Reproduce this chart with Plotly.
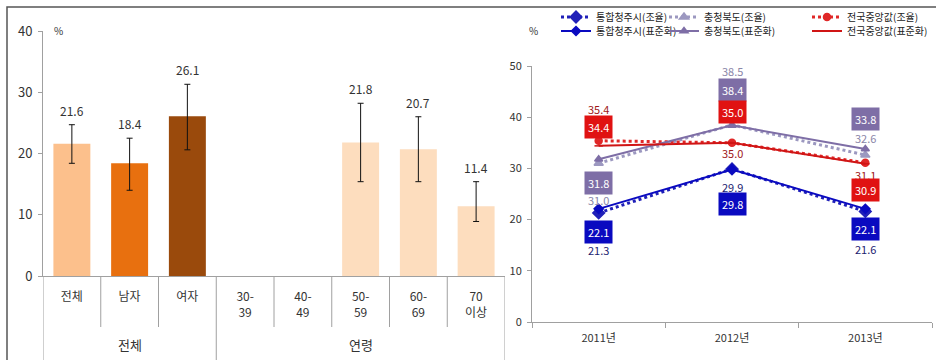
import plotly.graph_objects as go

W, H = 936, 360

# ---------------- data: left chart ----------------
groups = ["전체", "전체", "전체", "연령", "연령", "연령", "연령", "연령"]
categories = ["전체", "남자", "여자", "30-<br>39", "40-<br>49", "50-<br>59", "60-<br>69", "70<br>이상"]
values = [21.6, 18.4, 26.1, None, None, 21.8, 20.7, 11.4]
ci_low = [18.4, 14.0, 20.6, None, None, 15.4, 15.4, 8.9]
ci_high = [24.7, 22.5, 31.3, None, None, 28.2, 26.0, 15.4]
left_yticks = [0, 10, 20, 30, 40]

# ---------------- data: right chart ----------------
years = ["2011년", "2012년", "2013년"]
chungju_crude = [21.3, 29.9, 21.6]
chungju_std = [22.1, 29.8, 22.1]
chungbuk_crude = [31.0, 38.5, 32.6]
chungbuk_std = [31.8, 38.4, 33.8]
national_crude = [35.4, 35.0, 31.1]
national_std = [34.4, 35.0, 30.9]
right_yticks = [0, 10, 20, 30, 40, 50]

# ---------------- styles ----------------
FONT = "Noto Sans CJK KR"
bar_colors = ["#FCC08C", "#E8700F", "#9A4A0C", "#FDDDBE", "#FDDDBE", "#FDDDBE", "#FDDDBE", "#FDDDBE"]
AX = "#A0A0A0"
TXT = "#333333"

def px_x(p):
    return p / W

def px_y(p):
    return 1 - p / H

fig = go.Figure()

# left bars
fig.add_trace(go.Bar(
    x=categories, y=values, marker=dict(color=bar_colors, line=dict(width=0)),
    error_y=dict(type="data", symmetric=False,
                 array=[(h - v) if v is not None else None for v, h in zip(values, ci_high)],
                 arrayminus=[(v - l) if v is not None else None for v, l in zip(values, ci_low)],
                 color="#111111", thickness=1, width=3),
    xaxis="x", yaxis="y", showlegend=False, hoverinfo="skip"))

annotations = []
# bar value labels above the error bars
for c, v, h in zip(categories, values, ci_high):
    if v is None:
        continue
    annotations.append(dict(x=c, y=h, xref="x", yref="y", text=f"{v:.1f}", showarrow=False,
                            yanchor="bottom", yshift=4,
                            font=dict(family=FONT, size=12, color=TXT)))

# right lines
series = [
    # name, values, color, dash, width, marker, msize
    ("통합청주시(조율)", chungju_crude, "#2020B8", "dot", 3, "diamond", 9),
    ("충청북도(조율)", chungbuk_crude, "#9C98C0", "dot", 3, "triangle-up", 8),
    ("전국중앙값(조율)", national_crude, "#E02828", "dot", 3, "circle", 7),
    ("통합청주시(표준화)", chungju_std, "#0A0AC0", "solid", 2, "diamond", 7),
    ("충청북도(표준화)", chungbuk_std, "#7E6EA6", "solid", 2, "triangle-up", 7),
    ("전국중앙값(표준화)", national_std, "#D01515", "solid", 2, "line-ew", 6),
]
# legend entry placement (pixels: symbol-left, row centre)
legend_pos = [(556, 17), (664, 17), (807, 17), (556, 31), (664, 31), (807, 31)]

layout_legends = {}
for k, ((name, vals, col, dash, wd, sym, ms), (lx, ly)) in enumerate(zip(series, legend_pos)):
    lg = "legend" if k == 0 else f"legend{k + 1}"
    fig.add_trace(go.Scatter(
        x=years, y=vals, name=name, mode="lines+markers",
        line=dict(color=col, dash=dash, width=wd),
        marker=dict(symbol=sym, size=ms, color=col, line=dict(color=col, width=1.5)),
        xaxis="x2", yaxis="y2", legend=lg, hoverinfo="skip"))
    layout_legends[lg] = dict(orientation="h", xref="container", yref="container",
                              xanchor="left", yanchor="middle", x=px_x(lx), y=px_y(ly),
                              font=dict(family=FONT, size=10, color="#222222"),
                              bgcolor="rgba(0,0,0,0)", itemwidth=30)

# label styles (pixel offsets from each point), per series
label_style = {
    "통합청주시(조율)": dict(box=False, color="#1C1C70", shifts=[-37, -18, -38]),
    "충청북도(조율)": dict(box=False, color="#8A86A8", shifts=[-37, 54, 17]),
    "전국중앙값(조율)": dict(box=False, color="#A01818", shifts=[32, -10, -12]),
    "통합청주시(표준화)": dict(box=True, color="#0A0AC0", shifts=[-23, -35, -20]),
    "충청북도(표준화)": dict(box=True, color="#7E6EA6", shifts=[-24, 35, 30]),
    "전국중앙값(표준화)": dict(box=True, color="#E01212", shifts=[19, 31, -26]),
}
for name, vals, col, dash, wd, sym, ms in series:
    st = label_style[name]
    for yr, v, sh in zip(years, vals, st["shifts"]):
        if st["box"]:
            annotations.append(dict(
                x=yr, y=v, xref="x2", yref="y2", text=f"{v:.1f}", showarrow=False, yshift=sh,
                bgcolor=st["color"], borderpad=3,
                font=dict(family=FONT, size=11, color="white")))
        else:
            annotations.append(dict(
                x=yr, y=v, xref="x2", yref="y2", text=f"{v:.1f}", showarrow=False, yshift=sh,
                font=dict(family=FONT, size=11, color=st["color"])))

# group labels of the left chart
seen = []
for g in groups:
    if g not in seen:
        seen.append(g)
for g in seen:
    idx = [i for i, gg in enumerate(groups) if gg == g]
    mid = (idx[0] + idx[-1]) / 2
    annotations.append(dict(x=mid, y=px_y(344), xref="x", yref="paper", yanchor="middle",
                            text=g, showarrow=False,
                            font=dict(family=FONT, size=13, color=TXT)))

# "%" unit labels
for ux in (58, 533):
    annotations.append(dict(x=px_x(ux), y=px_y(30), xref="paper", yref="paper", xanchor="center",
                            yanchor="middle", text="%", showarrow=False,
                            font=dict(family=FONT, size=10, color=TXT)))

# divider lines for the left chart's category axis
shapes = []
n = len(categories)
for i in range(n + 1):
    is_group_edge = i == 0 or i == n or groups[i] != groups[i - 1]
    shapes.append(dict(type="line", xref="x", yref="paper", x0=i - 0.5, x1=i - 0.5,
                       y0=px_y(276), y1=(-0.05 if is_group_edge else px_y(327)),
                       line=dict(color=AX, width=1)))
# outer frame (top and left visible)
shapes.append(dict(type="rect", xref="paper", yref="paper", x0=px_x(7), x1=1.05, y0=-0.05, y1=px_y(7),
                   line=dict(color="#555555", width=1.5)))

fig.update_layout(
    width=W, height=H, margin=dict(l=0, r=0, t=0, b=0, autoexpand=False),
    paper_bgcolor="white", plot_bgcolor="white",
    font=dict(family=FONT, color=TXT),
    bargap=0.36,
    xaxis=dict(domain=[px_x(43), px_x(505)], type="category", showline=True, linecolor=AX,
               ticks="", showgrid=False, tickfont=dict(size=12, color=TXT), ticklabelstandoff=10,
               range=[-0.5, n - 0.5]),
    yaxis=dict(domain=[px_y(276), px_y(31)], range=[0, 40], tickvals=left_yticks, showline=True,
               linecolor=AX, ticks="outside", ticklen=4, tickcolor=AX, showgrid=False,
               zeroline=False, tickfont=dict(size=13, color=TXT), ticklabelstandoff=3),
    xaxis2=dict(domain=[px_x(532), px_x(932)], type="category", anchor="y2", showline=True,
                linecolor=AX, ticks="outside", ticklen=5, tickcolor=AX, tickson="boundaries",
                showgrid=False, tickfont=dict(size=11, color=TXT), ticklabelstandoff=6,
                range=[-0.5, 2.5]),
    yaxis2=dict(domain=[px_y(322), px_y(66)], anchor="x2", range=[0, 50], tickvals=right_yticks,
                showline=True, linecolor=AX, ticks="outside", ticklen=4, tickcolor=AX,
                showgrid=False, zeroline=False, tickfont=dict(size=11, color=TXT), ticklabelstandoff=3),
    annotations=annotations,
    shapes=shapes,
    **layout_legends,
)

fig.write_html("out.html", config={"displayModeBar": False},
               post_script="document.body.style.margin='0';")
